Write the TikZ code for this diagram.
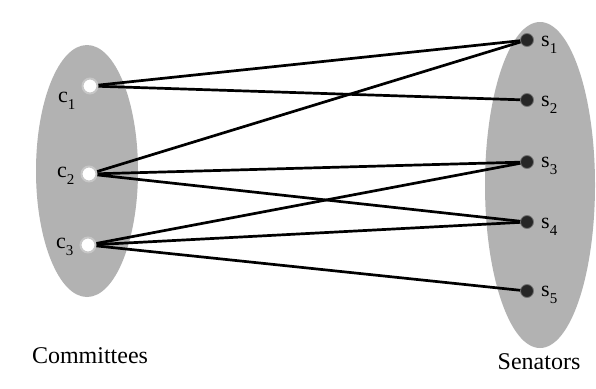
\documentclass[tikz,border=0pt]{standalone}
\usepackage{fontspec}
\setmainfont{Liberation Serif}
\newcommand\mysub[1]{\raisebox{-0.32em}{\fontsize{15}{15}\selectfont #1}}
\begin{document}
\begin{tikzpicture}[x=1pt,y=-1pt,
  cnode/.style={circle,fill=white,draw=black!22,line width=2pt,minimum size=15pt,inner sep=0pt},
  snode/.style={circle,fill=black!85,draw=black!55,line width=0.8pt,minimum size=13pt,inner sep=0pt},
  lab/.style={font=\fontsize{22}{22}\selectfont,inner sep=0pt},
  edge/.style={line width=2.7pt,draw=black},
  set/.style={fill=black!30,draw=none}]
\useasboundingbox (0,0) rectangle (596,388);
\fill[white] (0,0) rectangle (596,388);
\fill[set] (87,171) ellipse [x radius=51, y radius=126];
\fill[set] (540,185) ellipse [x radius=55, y radius=163];
\coordinate (c1) at (90,86);
\coordinate (c2) at (89,174);
\coordinate (c3) at (88,245);
\coordinate (s1) at (527,40);
\coordinate (s2) at (527,100);
\coordinate (s3) at (527,162);
\coordinate (s4) at (527,222);
\coordinate (s5) at (527,291);
\foreach \a/\b in {c1/s1,c1/s2,c2/s1,c2/s3,c2/s4,c3/s3,c3/s4,c3/s5}
  \draw[edge] (\a) -- (\b);
\node[cnode] (n1) at (c1) {};
\node[cnode] (n2) at (c2) {};
\node[cnode] (n3) at (c3) {};
\node[snode] (m1) at (s1) {};
\node[snode] (m2) at (s2) {};
\node[snode] (m3) at (s3) {};
\node[snode] (m4) at (s4) {};
\node[snode] (m5) at (s5) {};
\node[lab,anchor=base west] (lc1) at (58,102) {c\mysub{1}};
\node[lab,anchor=base west] (lc2) at (57,177) {c\mysub{2}};
\node[lab,anchor=base west] (lc3) at (56,248) {c\mysub{3}};
\node[lab,anchor=base west] (ls1) at (541,46) {s\mysub{1}};
\node[lab,anchor=base west] (ls2) at (541,106) {s\mysub{2}};
\node[lab,anchor=base west] (ls3) at (541,167) {s\mysub{3}};
\node[lab,anchor=base west] (ls4) at (541,228) {s\mysub{4}};
\node[lab,anchor=base west] (ls5) at (541,296) {s\mysub{5}};
\node[font=\fontsize{24}{24}\selectfont,inner sep=0pt,anchor=base] (tc) at (90,363) {Committees};
\node[font=\fontsize{24}{24}\selectfont,inner sep=0pt,anchor=base] (ts) at (539,369) {Senators};
\end{tikzpicture}
\end{document}
